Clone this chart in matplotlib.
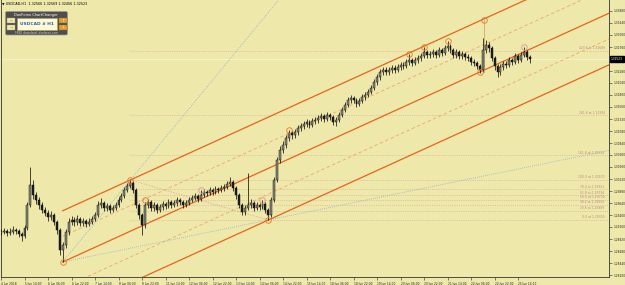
import numpy as np
import matplotlib.pyplot as plt
from matplotlib.patches import Rectangle, FancyBboxPatch
import matplotlib.transforms as mtransforms

# USDCAD H1, drawn as 2-hour candles; x = hourly bar number from the first bar
close = [1.2906, 1.2908, 1.2904, 1.2906, 1.2910, 1.2908, 1.2902, 1.2898, 1.2914, 1.2960,
         1.3000, 1.2980, 1.2970, 1.2960, 1.2950, 1.2944, 1.2936, 1.2940, 1.2926, 1.2910,
         1.2870, 1.2880, 1.2906, 1.2926, 1.2930, 1.2926, 1.2932, 1.2924, 1.2928, 1.2922,
         1.2926, 1.2932, 1.2940, 1.2960, 1.2964, 1.2954, 1.2958, 1.2950, 1.2954, 1.2960,
         1.2970, 1.2978, 1.2990, 1.2998, 1.3004, 1.2990, 1.2960, 1.2940, 1.2920, 1.2960,
         1.2966, 1.2954, 1.2960, 1.2950, 1.2956, 1.2962, 1.2958, 1.2966, 1.2960, 1.2964,
         1.2970, 1.2966, 1.2960, 1.2964, 1.2970, 1.2974, 1.2978, 1.2972, 1.2980, 1.2986,
         1.2984, 1.2990, 1.2986, 1.2992, 1.2990, 1.2994, 1.2996, 1.3002, 1.3006, 1.2994,
         1.2980, 1.2960, 1.2946, 1.2954, 1.2960, 1.2964, 1.2954, 1.2960, 1.2956, 1.2962,
         1.2950, 1.2940, 1.2970, 1.3010, 1.3050, 1.3070, 1.3080, 1.3094, 1.3104, 1.3100,
         1.3106, 1.3114, 1.3118, 1.3122, 1.3126, 1.3120, 1.3128, 1.3130, 1.3134, 1.3138,
         1.3132, 1.3140, 1.3136, 1.3126, 1.3130, 1.3140, 1.3150, 1.3160, 1.3170, 1.3174,
         1.3170, 1.3162, 1.3168, 1.3176, 1.3180, 1.3186, 1.3194, 1.3206, 1.3216, 1.3226,
         1.3230, 1.3226, 1.3230, 1.3234, 1.3230, 1.3236, 1.3240, 1.3238, 1.3246, 1.3250,
         1.3244, 1.3250, 1.3254, 1.3258, 1.3266, 1.3260, 1.3262, 1.3266, 1.3260, 1.3270,
         1.3264, 1.3274, 1.3278, 1.3270, 1.3260, 1.3266, 1.3258, 1.3262, 1.3256, 1.3254,
         1.3246, 1.3244, 1.3238, 1.3230, 1.3270, 1.3280, 1.3274, 1.3254, 1.3238, 1.3226,
         1.3236, 1.3242, 1.3240, 1.3250, 1.3246, 1.3258, 1.3250, 1.3260, 1.3266, 1.3256, 1.3252]
high = [1.2912, 1.2914, 1.2912, 1.2914, 1.2918, 1.2914, 1.2912, 1.2906, 1.2920, 1.2966,
        1.3036, 1.3010, 1.2986, 1.2976, 1.2966, 1.2956, 1.2950, 1.2948, 1.2944, 1.2930,
        1.2914, 1.2886, 1.2912, 1.2934, 1.2938, 1.2936, 1.2940, 1.2936, 1.2934, 1.2932,
        1.2934, 1.2938, 1.2946, 1.2968, 1.2974, 1.2968, 1.2964, 1.2962, 1.2960, 1.2966,
        1.2976, 1.2984, 1.2996, 1.3004, 1.3010, 1.3008, 1.2994, 1.2964, 1.2944, 1.2966,
        1.2972, 1.2970, 1.2966, 1.2964, 1.2962, 1.2968, 1.2966, 1.2972, 1.2970, 1.2970,
        1.2976, 1.2974, 1.2970, 1.2970, 1.2976, 1.2980, 1.2984, 1.2982, 1.2990, 1.2992,
        1.2990, 1.2996, 1.2994, 1.2998, 1.2996, 1.3000, 1.3002, 1.3008, 1.3016, 1.3010,
        1.2998, 1.2984, 1.2964, 1.2960, 1.3024, 1.2972, 1.2968, 1.2966, 1.2964, 1.2970,
        1.2966, 1.2954, 1.2976, 1.3016, 1.3056, 1.3078, 1.3088, 1.3100, 1.3110, 1.3108,
        1.3112, 1.3120, 1.3124, 1.3128, 1.3132, 1.3130, 1.3134, 1.3136, 1.3140, 1.3144,
        1.3142, 1.3146, 1.3144, 1.3140, 1.3136, 1.3146, 1.3156, 1.3166, 1.3176, 1.3180,
        1.3178, 1.3174, 1.3174, 1.3182, 1.3186, 1.3192, 1.3200, 1.3212, 1.3222, 1.3232,
        1.3236, 1.3236, 1.3236, 1.3240, 1.3240, 1.3242, 1.3246, 1.3246, 1.3252, 1.3262,
        1.3254, 1.3256, 1.3260, 1.3264, 1.3276, 1.3270, 1.3268, 1.3272, 1.3270, 1.3276,
        1.3274, 1.3280, 1.3288, 1.3282, 1.3274, 1.3272, 1.3270, 1.3268, 1.3266, 1.3262,
        1.3258, 1.3252, 1.3248, 1.3242, 1.3294, 1.3290, 1.3286, 1.3278, 1.3258, 1.3242,
        1.3242, 1.3248, 1.3248, 1.3256, 1.3254, 1.3264, 1.3262, 1.3266, 1.3276, 1.3270, 1.3260]
low = [1.2900, 1.2902, 1.2898, 1.2900, 1.2902, 1.2902, 1.2896, 1.2888, 1.2894, 1.2910,
       1.2956, 1.2972, 1.2962, 1.2952, 1.2944, 1.2938, 1.2928, 1.2930, 1.2920, 1.2902,
       1.2860, 1.2846, 1.2874, 1.2900, 1.2920, 1.2918, 1.2920, 1.2918, 1.2918, 1.2916,
       1.2918, 1.2922, 1.2928, 1.2936, 1.2954, 1.2948, 1.2948, 1.2944, 1.2946, 1.2950,
       1.2956, 1.2966, 1.2974, 1.2986, 1.2994, 1.2984, 1.2954, 1.2932, 1.2900, 1.2914,
       1.2954, 1.2948, 1.2948, 1.2944, 1.2946, 1.2950, 1.2952, 1.2954, 1.2954, 1.2956,
       1.2958, 1.2960, 1.2954, 1.2956, 1.2960, 1.2966, 1.2970, 1.2966, 1.2968, 1.2976,
       1.2978, 1.2980, 1.2980, 1.2982, 1.2984, 1.2986, 1.2988, 1.2992, 1.2998, 1.2988,
       1.2972, 1.2954, 1.2940, 1.2940, 1.2950, 1.2954, 1.2948, 1.2950, 1.2950, 1.2952,
       1.2944, 1.2930, 1.2936, 1.2966, 1.3006, 1.3044, 1.3064, 1.3074, 1.3088, 1.3092,
       1.3094, 1.3100, 1.3108, 1.3112, 1.3116, 1.3114, 1.3116, 1.3122, 1.3124, 1.3128,
       1.3126, 1.3128, 1.3130, 1.3120, 1.3118, 1.3126, 1.3136, 1.3146, 1.3156, 1.3164,
       1.3164, 1.3156, 1.3158, 1.3164, 1.3170, 1.3176, 1.3182, 1.3190, 1.3200, 1.3210,
       1.3220, 1.3220, 1.3220, 1.3224, 1.3224, 1.3226, 1.3230, 1.3232, 1.3234, 1.3240,
       1.3238, 1.3240, 1.3244, 1.3248, 1.3254, 1.3254, 1.3254, 1.3256, 1.3254, 1.3256,
       1.3258, 1.3260, 1.3268, 1.3264, 1.3254, 1.3254, 1.3252, 1.3252, 1.3250, 1.3248,
       1.3240, 1.3238, 1.3232, 1.3224, 1.3226, 1.3264, 1.3266, 1.3248, 1.3230, 1.3216,
       1.3220, 1.3230, 1.3234, 1.3236, 1.3240, 1.3242, 1.3244, 1.3246, 1.3256, 1.3250, 1.3244]
first_open = 1.2904

# time axis labels every 16 hourly bars
date_labels = ["4 Jun 2018", "5 Jun 14:00", "6 Jun 06:00", "6 Jun 22:00", "7 Jun 14:00",
               "8 Jun 06:00", "8 Jun 22:00", "11 Jun 14:00", "12 Jun 06:00", "12 Jun 22:00",
               "13 Jun 14:00", "14 Jun 06:00", "14 Jun 22:00", "15 Jun 14:00", "18 Jun 06:00",
               "18 Jun 22:00", "19 Jun 14:00", "20 Jun 06:00", "20 Jun 22:00", "21 Jun 14:00",
               "22 Jun 06:00", "22 Jun 22:00", "25 Jun 14:00"]
price_ticks = [1.33480, 1.33240, 1.33000, 1.32760, 1.32520, 1.32280, 1.32040, 1.31800,
               1.31560, 1.31320, 1.31080, 1.30840, 1.30600, 1.30360, 1.30120, 1.29880,
               1.29640, 1.29400, 1.29160, 1.28920, 1.28680, 1.28440, 1.28200]

# drawing objects (bar number, price)
swing_low = (42, 1.2846)
swing_high = (88, 1.3010)
second_low = (182, 1.2930)
channel_ref = (326, 1.3226)
fib_levels = [0.0, 23.6, 38.2, 50.0, 61.8, 76.4, 100.0, 161.8, 261.8, 423.6]
orange_marks = [(42, 1.2846), (88, 1.3010), (98, 1.2970), (182, 1.2930), (196, 1.3110),
                (278, 1.3262), (288, 1.3276), (304, 1.3288), (326, 1.3226), (329, 1.3330)]
pink_marks = [(136, 1.2990), (178, 1.2970), (356, 1.3276)]
header = "\u25bc USDCAD,H1  1.32566 1.32569 1.32456 1.32523"
last_price = "1.32523"

BG = '#EEE8AA'
X_MAX = 413.9
Y_MIN, Y_MAX = 1.2816, 1.3370

fig = plt.figure(figsize=(6.25, 2.85), dpi=100, facecolor=BG)
ax = fig.add_axes([1 / 625, 8 / 285, 608 / 625, 277 / 285], facecolor=BG)
ax.set_xlim(0, X_MAX)
ax.set_ylim(Y_MIN, Y_MAX)

bars = np.arange(len(close)) * 2
c = np.array(close)
o = np.r_[first_open, c[:-1]]
h = np.array(high)
l = np.array(low)

# fibonacci levels
f0, f1 = second_low[1], swing_high[1]
for lv in fib_levels:
    p = f0 + (f1 - f0) * lv / 100
    ax.plot([swing_high[0], X_MAX], [p, p], color='#D6A6A0', lw=0.5, ls=(0, (1, 1.6)), zorder=1)
    ax.text(411, p + 0.00012, "%.1f at %.5f" % (lv, p), fontsize=2.2, color='#B88C88',
            ha='right', va='bottom', zorder=2)
ax.plot([swing_high[0], second_low[0]], [swing_high[1], second_low[1]],
        color='#D6A6A0', lw=0.5, ls=(0, (2, 2)), zorder=1)

# channel
slope = (channel_ref[1] - swing_low[1]) / (channel_ref[0] - swing_low[0])
xs = np.array([swing_low[0], X_MAX])
def chan(anchor):
    return anchor[1] + slope * (xs - anchor[0])
top, mid, bot = chan(swing_high), chan(swing_low), chan(second_low)
for line in (top, mid, bot):
    ax.plot(xs, line, color='#E8641E', lw=0.9, zorder=3)
for line in ((top + mid) / 2, (mid + bot) / 2):
    ax.plot(xs, line, color='#F0A868', lw=0.6, ls=(0, (4, 3)), zorder=3)

# blue fan lines from the swing low
for pt in (swing_high, second_low):
    s = (pt[1] - swing_low[1]) / (pt[0] - swing_low[0])
    ax.plot(xs, swing_low[1] + s * (xs - swing_low[0]), color='#8FB2D6', lw=0.6,
            ls=(0, (1, 1.5)), zorder=2)

ax.plot([329, 329], [1.3330, 1.3226], color='#C8A878', lw=0.6, zorder=3)

# candles
up = c >= o
ax.vlines(bars, l, h, color='black', lw=0.5, zorder=4)
ax.bar(bars[up], (c - o)[up], bottom=o[up], width=1.3, color='#8A8A78',
       edgecolor='black', linewidth=0.3, zorder=5)
ax.bar(bars[~up], (c - o)[~up], bottom=o[~up], width=1.3, color='#222222',
       edgecolor='black', linewidth=0.3, zorder=5)

mx, my = zip(*orange_marks)
ax.plot(mx, my, 'o', ms=4, mfc='none', mec='#E07A30', mew=0.6, zorder=6)
px, py = zip(*pink_marks)
ax.plot(px, py, 'o', ms=4, mfc='none', mec='#D49A9A', mew=0.6, zorder=6)

ax.axhline(c[-1], color='#F8F4D8', lw=0.5, zorder=1)

# axes styling
ax.spines['top'].set_visible(False)
for side in ('left', 'right', 'bottom'):
    ax.spines[side].set_color('#333333')
    ax.spines[side].set_linewidth(0.6)
ax.yaxis.tick_right()
ax.set_yticks(price_ticks)
ax.set_yticklabels(["%.5f" % v for v in price_ticks])
ax.set_xticks(np.arange(len(date_labels)) * 16)
ax.set_xticklabels(date_labels, ha='left')
ax.tick_params(axis='both', direction='out', length=2.5, width=0.4, labelsize=2.1,
               pad=1, colors='#222222')
trans = mtransforms.blended_transform_factory(ax.transAxes, ax.transData)
ax.text(1.003, c[-1], last_price, transform=trans, fontsize=2.1, color='white',
        va='center', ha='left', zorder=10,
        bbox=dict(boxstyle='square,pad=0.25', fc='black', ec='black'))

# header and logo in pixel coordinates
ov = fig.add_axes([0, 0, 1, 1], facecolor='none')
ov.set_xlim(0, 625)
ov.set_ylim(285, 0)
ov.axis('off')
ov.text(2, 4, header, fontsize=2.4, color='black', va='center', ha='left')
ov.add_patch(FancyBboxPatch((5.5, 11.5), 62, 23.5, boxstyle='round,pad=0,rounding_size=1.5',
                            fc='#4E4E4E', ec='#9A9A9A', lw=0.5))
ov.text(36, 15, "DonForex ChartChanger", fontsize=2.6, color='white', ha='center', va='center')
ov.add_patch(Rectangle((16.7, 18.3), 40, 11.7, fc='#FFFBD0', ec='#B0A070', lw=0.4))
ov.text(36.7, 24.2, "USDCAD # H1", fontsize=3.2, color='#2F58C8', weight='bold',
        ha='center', va='center')
for yb, arr in ((18.3, '\u2190'), (25.0, '\u2192')):
    ov.add_patch(Rectangle((7, yb), 8, 5, fc='#F2EAB0', ec='#B0A070', lw=0.3))
    ov.text(11, yb + 2.5, arr, fontsize=2.6, color='#B0A060', ha='center', va='center')
for yb, arr in ((18.3, '\u2191'), (25.0, '\u2193')):
    ov.add_patch(Rectangle((58.5, yb), 8, 5, fc='#E0A030', ec='#A07020', lw=0.3))
    ov.text(62.5, yb + 2.5, arr, fontsize=2.6, color='white', ha='center', va='center')
ov.text(36, 32.6, "FREE download: donforex.com", fontsize=2.1, color='#CFCFCF',
        ha='center', va='center')

fig.savefig('out.png', dpi=100, facecolor=BG)
